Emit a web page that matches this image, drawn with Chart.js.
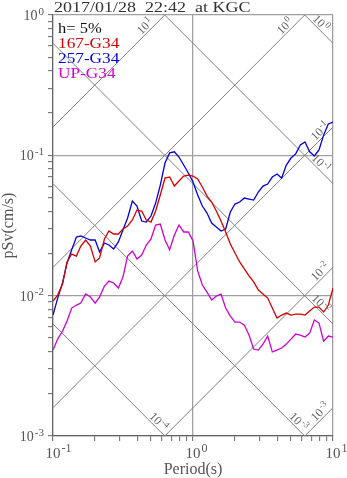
<!DOCTYPE html>
<html>
<head>
<meta charset="utf-8">
<script src="https://cdn.jsdelivr.net/npm/chart.js@4.4.1/dist/chart.umd.min.js"></script>
<style>
  html, body { margin: 0; padding: 0; background: #fff; }
  canvas { display: block; }
</style>
</head>
<body>
<canvas id="spectra" width="347" height="478"></canvas>
<script>
// pseudo velocity response spectra, h = 5%
var periods = [0.100,0.108,0.117,0.126,0.136,0.147,0.158,0.171,0.185,0.200,
  0.215,0.233,0.251,0.271,0.293,0.316,0.341,0.369,0.398,0.430,
  0.464,0.501,0.541,0.584,0.631,0.681,0.736,0.794,0.858,0.926,
  1.000,1.080,1.166,1.259,1.359,1.468,1.585,1.711,1.848,1.995,
  2.154,2.326,2.512,2.712,2.929,3.162,3.415,3.687,3.981,4.299,
  4.642,5.012,5.412,5.843,6.310,6.813,7.356,7.943,8.577,9.261,10.00];

var sv167 = [0.009152,0.0101,0.01212,0.01739,0.0198,0.01916,0.0226,0.02493,0.0226,0.01739,
  0.01857,0.02535,0.0289,0.02751,0.02751,0.02986,0.03136,0.0346,0.04076,0.0401,
  0.0346,0.03348,0.0401,0.05212,0.0689,0.07004,0.06042,0.06559,0.0712,0.07237,
  0.0712,0.06778,0.05944,0.05128,0.04647,0.0401,0.03404,0.02843,0.02335,0.02013,
  0.01739,0.01551,0.01382,0.01253,0.01096,0.01027,0.009613,0.008159,0.006924,0.007274,
  0.007516,0.007274,0.007393,0.007393,0.007274,0.007766,0.008293,0.008293,0.00764,0.00857,0.01133];

var sv257 = [0.00727,0.00961,0.01232,0.01711,0.02121,0.02619,0.02662,0.02576,0.02493,0.02493,
  0.02048,0.02374,0.02297,0.02151,0.02413,0.02937,0.03575,0.04724,0.04352,0.03404,
  0.03348,0.03694,0.04571,0.06142,0.08813,0.1041,0.1059,0.09725,0.08529,0.07478,
  0.06452,0.05212,0.04352,0.0388,0.03294,0.03085,0.0289,0.02986,0.03944,0.04497,
  0.04647,0.04962,0.04881,0.04801,0.05476,0.06042,0.06244,0.07004,0.07358,0.0689,
  0.08529,0.09567,0.1024,0.1187,0.1246,0.1059,0.09902,0.1094,0.1398,0.1674,0.1727];

var svUP = [0.004096,0.004905,0.005594,0.006592,0.008159,0.00857,0.008856,0.01027,0.009773,0.008856,
  0.009773,0.0117,0.0127,0.01232,0.01133,0.01357,0.01916,0.02082,0.01827,0.01947,
  0.02297,0.02535,0.03188,0.0324,0.02493,0.02121,0.02706,0.03188,0.02843,0.02843,
  0.02453,0.01501,0.0119,0.01061,0.009303,0.009935,0.01027,0.008159,0.007153,0.006484,
  0.006484,0.00617,0.005237,0.004165,0.004096,0.004519,0.005155,0.003971,0.004096,0.004234,
  0.004519,0.004905,0.005324,0.005237,0.00507,0.005411,0.006701,0.006379,0.004747,0.005155,0.00507];

var seriesNames = ['167-G34', '257-G34', 'UP-G34'];
var seriesColors = ['#d40000', '#0000e0', '#d000d0'];

// tripartite guide lines: acceleration (cm/s2) and displacement (cm)
var accLevels = [10, 1, 0.1, 0.01, 0.001];
var accExp = ['1', '0', '-1', '-2', '-3'];
var dispLevels = [1, 0.1, 0.01, 0.001, 0.0001];
var dispExp = ['0', '-1', '-2', '-3', '-4'];

var xDecades = [0.1, 1, 10];
var xDecadeExp = ['-1', '0', '1'];
var yDecades = [0.001, 0.01, 0.1, 1];
var yDecadeExp = ['-3', '-2', '-1', '0'];

var titleText = '2017/01/28  22:42  at KGC';
var dampText = 'h= 5%';

var TMIN = 0.1, TMAX = 10, VMIN = 0.001, VMAX = 1;
var W = 2 * Math.PI;
var SERIF = '"Liberation Serif", "Times New Roman", serif';

function minorTicks(decades) {
	var out = [];
	for (var i = 0; i < decades.length; i++) {
		for (var m = 1; m <= 9; m++) {
			if (i == decades.length - 1 && m > 1) break;
			out.push({ value: decades[i] * m });
		}
	}
	return out;
}
function isDecade(v) {
	var l = Math.log10(v);
	return Math.abs(l - Math.round(l)) < 1e-6;
}

var datasets = [];
accLevels.forEach(function(a) {
	datasets.push({
		data: [{ x: TMIN, y: a * TMIN / W }, { x: TMAX, y: a * TMAX / W }],
		borderColor: '#808080', borderWidth: 1, pointRadius: 0, order: 5, kind: 'guide'
	});
});
dispLevels.forEach(function(d) {
	datasets.push({
		data: [{ x: TMIN, y: W * d / TMIN }, { x: TMAX, y: W * d / TMAX }],
		borderColor: '#808080', borderWidth: 1, pointRadius: 0, order: 5, kind: 'guide'
	});
});
[sv167, sv257, svUP].forEach(function(arr, i) {
	datasets.push({
		label: seriesNames[i],
		data: periods.map(function(t, j) { return { x: t, y: arr[j] }; }),
		borderColor: seriesColors[i], borderWidth: 1.3, pointRadius: 0,
		tension: 0, order: 1
	});
});

// text a little wider than the serif font gives
function wideText(ctx, text, x, y, sx) {
	ctx.save();
	ctx.translate(x, y);
	ctx.scale(sx, 1);
	ctx.fillText(text, 0, 0);
	ctx.restore();
}

// draw 10 with a raised exponent
function drawPow(ctx, exp, x, y, size, align) {
	ctx.font = size + 'px ' + SERIF;
	var bw = ctx.measureText('10').width;
	var small = Math.round(size * 0.78);
	ctx.font = small + 'px ' + SERIF;
	var ew = ctx.measureText(exp).width;
	var x0;
	if (align == 'right') x0 = x - bw - ew - 1;
	else if (align == 'base') x0 = x - bw / 2;
	else x0 = x - (bw + ew + 1) / 2;
	ctx.textAlign = 'left';
	ctx.textBaseline = 'alphabetic';
	ctx.font = size + 'px ' + SERIF;
	ctx.fillText('10', x0, y);
	ctx.font = small + 'px ' + SERIF;
	ctx.fillText(exp, x0 + bw + 1, y - size * 0.38);
}

var decor = {
	id: 'decor',
	afterDraw: function(chart) {
		var ctx = chart.ctx;
		var xs = chart.scales.x, ys = chart.scales.y;
		var area = chart.chartArea;
		ctx.save();

		// tick labels
		ctx.fillStyle = '#555';
		yDecades.forEach(function(v, i) {
			drawPow(ctx, yDecadeExp[i], 44, ys.getPixelForValue(v) + 5, 14, 'right');
		});
		xDecades.forEach(function(v, i) {
			drawPow(ctx, xDecadeExp[i], xs.getPixelForValue(v), 458, 15, 'base');
		});

		// axis titles
		ctx.font = '16px ' + SERIF;
		ctx.textAlign = 'center';
		ctx.textBaseline = 'alphabetic';
		ctx.fillText('Period(s)', (area.left + area.right) / 2, 474);
		ctx.save();
		ctx.translate(13, (area.top + area.bottom) / 2);
		ctx.rotate(-Math.PI / 2);
		ctx.fillText('pSv(cm/s)', 0, 0);
		ctx.restore();

		// title
		ctx.fillStyle = '#333';
		ctx.textAlign = 'left';
		ctx.font = '15px ' + SERIF;
		wideText(ctx, titleText, area.left + 1, 12, 1.2);

		// legend
		ctx.font = '15px ' + SERIF;
		ctx.fillStyle = '#111';
		wideText(ctx, dampText, area.left + 5, 33, 1.1);
		var curves = chart.data.datasets.filter(function(ds) { return ds.kind != 'guide'; });
		curves.forEach(function(ds, i) {
			ctx.fillStyle = ds.borderColor;
			wideText(ctx, ds.label, area.left + 5, 48 + i * 15, 1.15);
		});

		// labels on the guide lines
		ctx.fillStyle = '#666';
		var lp = function(t) { return xs.getPixelForValue(t); };
		var vp = function(v) { return ys.getPixelForValue(v); };
		accLevels.forEach(function(a, i) {
			var tTop = W * VMAX / a, ex, ey, k;
			if (tTop <= TMAX) { ex = lp(tTop); ey = area.top; k = 20; }
			else { ex = area.right; ey = vp(a * TMAX / W); k = 13; }
			ctx.save();
			ctx.translate(ex - k, ey + k - 9);
			ctx.rotate(-Math.PI / 4);
			drawPow(ctx, accExp[i], 0, 4, 12, 'center');
			ctx.restore();
		});
		dispLevels.forEach(function(d, i) {
			var tBot = W * d / VMIN, ex, ey, k;
			if (tBot <= TMAX) { ex = lp(tBot); ey = area.bottom; k = 6; }
			else { ex = area.right; ey = vp(W * d / TMAX); k = 12; }
			ctx.save();
			ctx.translate(ex - k, ey - k - 8.5);
			ctx.rotate(Math.PI / 4);
			drawPow(ctx, dispExp[i], 0, 4, 12, 'center');
			ctx.restore();
		});
		ctx.restore();
	}
};

function axisOpts(min, max, decades, fit) {
	return {
		type: 'logarithmic',
		min: min,
		max: max,
		afterBuildTicks: function(axis) { axis.ticks = minorTicks(decades); },
		afterFit: fit,
		ticks: { callback: function() { return ''; }, autoSkip: false, maxRotation: 0, padding: 0 },
		grid: {
			color: function(c) { return c.tick && isDecade(c.tick.value) ? '#a0a0a0' : 'rgba(0,0,0,0)'; },
			lineWidth: 1.3,
			drawTicks: true,
			tickLength: 5,
			tickColor: '#666',
			tickWidth: 1
		},
		border: { display: true, color: '#666', width: 1.2 }
	};
}

var chart = new Chart(document.getElementById('spectra'), {
	type: 'line',
	data: { datasets: datasets },
	options: {
		responsive: false,
		animation: false,
		events: [],
		layout: { padding: { top: 15, right: 14, left: 0, bottom: 0 } },
		plugins: { legend: { display: false }, tooltip: { enabled: false } },
		scales: {
			x: axisOpts(TMIN, TMAX, xDecades, function(s) { s.height = 42; }),
			y: axisOpts(VMIN, VMAX, yDecades, function(s) { s.width = 53; })
		}
	},
	plugins: [decor]
});
</script>
</body>
</html>
